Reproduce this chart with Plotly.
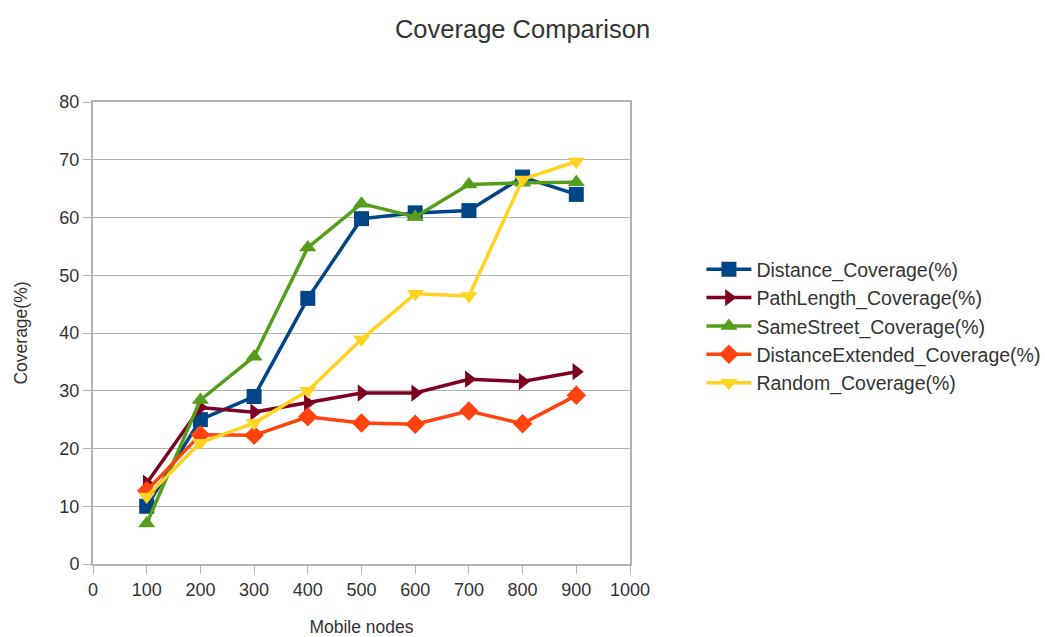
import plotly.graph_objects as go

nodes = [100, 200, 300, 400, 500, 600, 700, 800, 900]

distance = [10.0, 25.0, 29.0, 46.0, 59.8, 60.8, 61.2, 67.0, 64.0]
path_length = [14.0, 27.1, 26.3, 27.9, 29.6, 29.6, 32.0, 31.6, 33.3]
same_street = [7.0, 28.4, 35.9, 54.8, 62.4, 60.1, 65.7, 66.0, 66.1]
distance_ext = [12.7, 22.4, 22.3, 25.5, 24.4, 24.2, 26.5, 24.3, 29.2]
random_cov = [11.7, 21.0, 24.4, 30.0, 38.9, 46.8, 46.4, 66.6, 69.7]

series = [
    ("Distance_Coverage(%)", distance, "#004586", "square"),
    ("PathLength_Coverage(%)", path_length, "#7e0021", "triangle-right"),
    ("SameStreet_Coverage(%)", same_street, "#579d1c", "triangle-up"),
    ("DistanceExtended_Coverage(%)", distance_ext, "#ff420e", "diamond"),
    ("Random_Coverage(%)", random_cov, "#ffd320", "triangle-down"),
]

fig = go.Figure()
for name, vals, color, symbol in series:
    fig.add_trace(go.Scatter(x=nodes, y=vals, name=name, mode="lines+markers",
                             line={"color": color, "width": 3.5},
                             marker={"color": color, "symbol": symbol, "size": 15}))

fig.update_layout(
    width=1045, height=637,
    paper_bgcolor="white", plot_bgcolor="white",
    font={"family": "Liberation Sans, Arial, sans-serif", "color": "#333333", "size": 18},
    title={"text": "Coverage Comparison", "x": 0.5, "xanchor": "center",
           "y": 0.955, "yanchor": "middle", "font": {"size": 25.5}},
    margin={"l": 93, "r": 415, "t": 102, "b": 73, "autoexpand": False},
    legend={"x": 1.133, "y": 0.515, "xanchor": "left", "yanchor": "middle",
            "font": {"size": 19.5}, "tracegroupgap": 0, "itemwidth": 45},
    showlegend=True,
)
fig.update_xaxes(range=[0, 1000], dtick=100, tick0=0, automargin=False,
                 showgrid=False, showline=True, linecolor="#b3b3b3", linewidth=2, mirror=True,
                 ticks="outside", tickcolor="#b3b3b3", ticklen=8,
                 title={"text": "Mobile nodes", "font": {"size": 17.5}, "standoff": 26},
                 zeroline=False)
fig.update_yaxes(range=[0, 80], dtick=10, automargin=False,
                 showgrid=True, gridcolor="#b3b3b3", gridwidth=1,
                 showline=True, linecolor="#b3b3b3", linewidth=2, mirror=True,
                 ticks="outside", tickcolor="#b3b3b3", ticklen=8,
                 title={"text": "Coverage(%)", "font": {"size": 17.5}, "standoff": 27},
                 zeroline=False)

# the page's default body margin would push the chart 8px off the window
fig.write_html("out.html", config={"displayModeBar": False},
               post_script="document.body.style.margin = '0';")
